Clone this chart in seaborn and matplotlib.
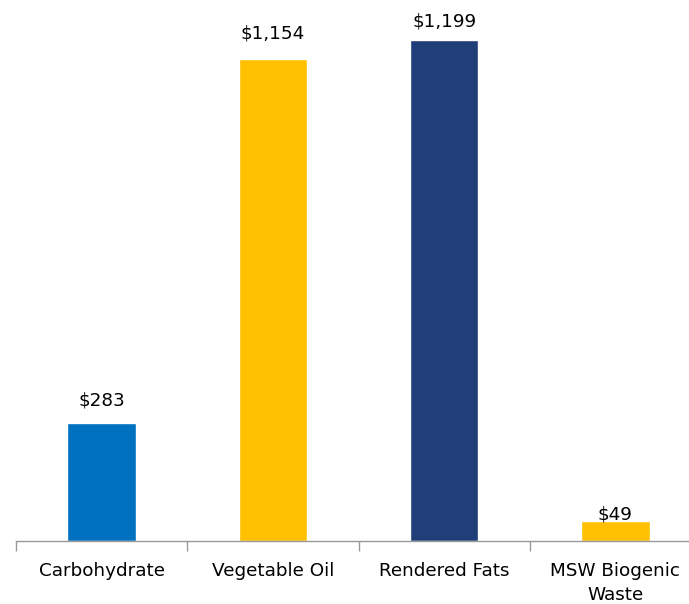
import matplotlib
matplotlib.use("Agg")
import matplotlib.pyplot as plt
import seaborn as sns
import pandas as pd

categories = ["Carbohydrate", "Vegetable Oil", "Rendered Fats", "MSW Biogenic\nWaste"]
values = [283, 1154, 1199, 49]
colors = ["#0070C0", "#FFC000", "#203F78", "#FFC000"]

# vertical gap (points) between each bar top and its value label baseline
label_gaps = [12.2, 14.4, 9.4, 0.7]

df = pd.DataFrame({"category": categories, "value": values})

sns.set_theme(style="white")
plt.rcParams["font.family"] = ["DejaVu Sans"]

fig = plt.figure(figsize=(6.89, 6.04), dpi=100)
ax = fig.add_axes([16 / 689, 63 / 604, 685 / 689, 539 / 604])

sns.barplot(data=df, x="category", y="value", hue="category",
            palette=colors, width=0.4, dodge=False, legend=False,
            saturation=1, ax=ax)

bars = [b for cont in ax.containers for b in cont]
for bar, val, gap in zip(bars, values, label_gaps):
    ax.annotate(f"${val:,.0f}",
                xy=(bar.get_x() + bar.get_width() / 2, bar.get_height()),
                xytext=(0, gap), textcoords="offset points",
                ha="center", va="baseline", fontsize=13.2, color="#000000")

ax.set_xlim(-0.5, len(categories) - 0.5)
ax.set_ylim(0, 1290)
ax.set_xlabel("")
ax.set_ylabel("")
ax.set_yticks([])

# category boundaries carry the tick marks, labels sit centred without ticks
ax.set_xticks(range(len(categories)))
ax.set_xticklabels(categories, fontsize=13.2, color="#000000", linespacing=1.45)
ax.tick_params(axis="x", which="major", length=0, pad=15)
ax.set_xticks([i - 0.5 for i in range(len(categories) + 1)], minor=True)
ax.tick_params(axis="x", which="minor", length=7, width=1, color="#999999",
               bottom=True)

for side in ["top", "right", "left"]:
    ax.spines[side].set_visible(False)
ax.spines["bottom"].set_color("#999999")
ax.spines["bottom"].set_linewidth(1)

fig.savefig("out.png", dpi=100)
